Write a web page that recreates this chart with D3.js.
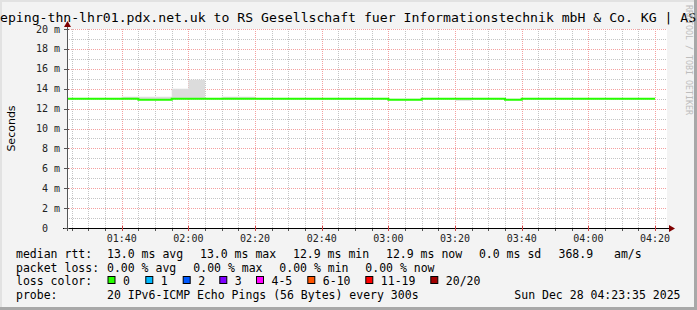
<!DOCTYPE html>
<meta charset="utf-8">
<head>
  <title>SmokePing</title>
  <style>
    body { margin: 0; background: #f3f3f3; }
    text { white-space: pre; }
  </style>
</head>
<script src="https://d3js.org/d3.v7.min.js"></script>
<div id="chart"></div>
<script>

// ---- data ----
var titleText = "eping-thn-lhr01.pdx.net.uk to RS Gesellschaft fuer Informationstechnik mbH & Co. KG | AS";

// 5 minute buckets (start time of each step)
var bucketTimes = ["01:20","01:25","01:30","01:35","01:40","01:45","01:50","01:55",
                   "02:00","02:05","02:10","02:15","02:20","02:25","02:30","02:35",
                   "02:40","02:45","02:50","02:55","03:00","03:05","03:10","03:15",
                   "03:20","03:25","03:30","03:35","03:40","03:45","03:50","03:55",
                   "04:00","04:05","04:10","04:15"];
var lastEnd = "04:20";

// median rtt in ms
var medianMs = [13.0,13.0,13.0,13.0,13.0,12.9,12.9,13.0,
                13.0,13.0,13.0,13.0,13.0,13.0,13.0,13.0,
                13.0,13.0,13.0,13.0,12.9,12.9,13.0,13.0,
                13.0,13.0,13.0,12.9,13.0,13.0,13.0,13.0,
                13.0,13.0,13.0,13.0];
// smoke (spread of the 20 pings) in ms
var smokeMaxMs = [13.05,13.05,13.05,13.05,13.2,13.2,13.2,14.0,
                  14.9,13.05,13.2,13.2,13.05,13.05,13.05,13.05,
                  13.05,13.05,13.05,13.05,13.0,13.0,13.05,13.05,
                  13.05,13.05,13.05,13.0,13.05,13.05,13.05,13.05,
                  13.05,13.05,13.05,13.05];
var smokeMinMs = [12.95,12.95,12.95,12.95,12.95,12.85,12.85,12.95,
                  12.95,12.95,12.95,12.95,12.95,12.95,12.95,12.95,
                  12.95,12.95,12.95,12.95,12.85,12.85,12.95,12.95,
                  12.8,12.95,12.95,12.85,12.95,12.95,12.95,12.95,
                  12.95,12.95,12.95,12.95];
// packet loss per bucket (all zero)
var lossCount = [0,0,0,0,0,0,0,0,0,0,0,0,0,0,0,0,0,0,
                 0,0,0,0,0,0,0,0,0,0,0,0,0,0,0,0,0,0];

var yTicks = [0,2,4,6,8,10,12,14,16,18,20];
var yTickLabels = ["0  ","2 m","4 m","6 m","8 m","10 m","12 m","14 m","16 m","18 m","20 m"];
var xTickLabels = ["01:40","02:00","02:20","02:40","03:00","03:20","03:40","04:00","04:20"];

var lossLabels = ["0","1","2","3","4-5","6-10","11-19","20/20"];
var lossColors = ["#26ff00","#00b8ff","#0059ff","#7e00ff","#ff00ff","#ff5500","#ff0000","#a10000"];

var rttStats = ["13.0 ms avg","13.0 ms max","12.9 ms min","12.9 ms now"," 0.0 ms sd","368.9","am/s"];
var lossStats = ["0.00 % avg","0.00 % max","0.00 % min","0.00 % now"];
var probeText = "20 IPv6-ICMP Echo Pings (56 Bytes) every 300s";
var dateText = "Sun Dec 28 04:23:35 2025";

// ---- layout ----
var width = 697, height = 310;
var plot = {left: 67, right: 667, top: 29, bottom: 228};

function t(s) {
  var p = s.split(":");
  return new Date(Date.UTC(2025, 11, 28, +p[0], +p[1], p[2] ? +p[2] : 0));
}

var svg = d3.select("#chart").append("svg")
    .attr("width", width)
    .attr("height", height)
    .style("display", "block");

// background + 3d border
svg.append("rect").attr("width", width).attr("height", height).attr("fill", "#f3f3f3");
svg.append("rect").attr("x", 0).attr("y", 0).attr("width", width).attr("height", 2).attr("fill", "#e2e2e2");
svg.append("rect").attr("x", 0).attr("y", 0).attr("width", 2).attr("height", height).attr("fill", "#e2e2e2");
svg.append("rect").attr("x", width - 3).attr("y", 0).attr("width", 3).attr("height", height).attr("fill", "#a8a8a8");
svg.append("rect").attr("x", 0).attr("y", height - 3).attr("width", width).attr("height", 3).attr("fill", "#a8a8a8");

var x = d3.scaleUtc()
    .domain([t("01:23:35"), t("04:23:35")])
    .range([plot.left, plot.right]);

var y = d3.scaleLinear()
    .domain([0, 20])
    .range([plot.bottom, plot.top]);

// canvas
svg.append("rect")
    .attr("x", plot.left).attr("y", plot.top)
    .attr("width", plot.right - plot.left).attr("height", plot.bottom - plot.top)
    .attr("fill", "#fff");

var grid = svg.append("g").attr("shape-rendering", "crispEdges");

// minor grid
var minorTimes = d3.utcMinute.every(5).range(x.domain()[0], x.domain()[1]);
grid.selectAll(".vmin").data(minorTimes).enter().append("line")
    .attr("x1", function(d) { return Math.round(x(d)) + 0.5; })
    .attr("x2", function(d) { return Math.round(x(d)) + 0.5; })
    .attr("y1", plot.top).attr("y2", plot.bottom)
    .attr("stroke", "#c4c4c4").attr("stroke-dasharray", "1,1");
grid.selectAll(".hmin").data(d3.range(1, 20, 2)).enter().append("line")
    .attr("x1", plot.left).attr("x2", plot.right)
    .attr("y1", function(d) { return Math.round(y(d)) + 0.5; })
    .attr("y2", function(d) { return Math.round(y(d)) + 0.5; })
    .attr("stroke", "#c4c4c4").attr("stroke-dasharray", "1,1");

// major grid
grid.selectAll(".vmaj").data(xTickLabels).enter().append("line")
    .attr("x1", function(d) { return Math.round(x(t(d))) + 0.5; })
    .attr("x2", function(d) { return Math.round(x(t(d))) + 0.5; })
    .attr("y1", plot.top).attr("y2", plot.bottom)
    .attr("stroke", "#f4a0a0").attr("stroke-dasharray", "1,1");
grid.selectAll(".hmaj").data(yTicks.slice(1)).enter().append("line")
    .attr("x1", plot.left).attr("x2", plot.right)
    .attr("y1", function(d) { return Math.round(y(d)) + 0.5; })
    .attr("y2", function(d) { return Math.round(y(d)) + 0.5; })
    .attr("stroke", "#f4a0a0").attr("stroke-dasharray", "1,1");

// step data built from the arrays
var steps = bucketTimes.map(function(b, i) {
  return {time: t(b), med: medianMs[i], lo: smokeMinMs[i], hi: smokeMaxMs[i], loss: lossCount[i]};
});
var lastStep = steps[steps.length - 1];
steps.push({time: t(lastEnd), med: lastStep.med, lo: lastStep.lo, hi: lastStep.hi, loss: lastStep.loss});

var clip = svg.append("clipPath").attr("id", "plotclip").append("rect")
    .attr("x", plot.left).attr("y", plot.top)
    .attr("width", plot.right - plot.left).attr("height", plot.bottom - plot.top);

var plotG = svg.append("g").attr("clip-path", "url(#plotclip)");

// smoke
var smoke = d3.area()
    .curve(d3.curveStepAfter)
    .x(function(d) { return x(d.time); })
    .y0(function(d) { return y(d.lo); })
    .y1(function(d) { return y(d.hi); });
plotG.append("path")
    .attr("d", smoke(steps))
    .attr("fill", "#dcdcdc");

// median line
var medLine = d3.line()
    .curve(d3.curveStepAfter)
    .x(function(d) { return x(d.time); })
    .y(function(d) { return y(d.med); });
plotG.append("path")
    .attr("d", medLine(steps))
    .attr("fill", "none")
    .attr("stroke", lossColors[0])
    .attr("stroke-width", 2);

// axes
var axisG = svg.append("g").attr("shape-rendering", "crispEdges");
axisG.append("line")
    .attr("x1", plot.left - 4).attr("x2", plot.right + 3)
    .attr("y1", plot.bottom + 0.5).attr("y2", plot.bottom + 0.5)
    .attr("stroke", "#000");
axisG.append("line")
    .attr("x1", plot.left + 0.5).attr("x2", plot.left + 0.5)
    .attr("y1", plot.bottom + 3).attr("y2", plot.top - 4)
    .attr("stroke", "#555");
// tick marks
axisG.selectAll(".xt").data(minorTimes).enter().append("line")
    .attr("x1", function(d) { return Math.round(x(d)) + 0.5; })
    .attr("x2", function(d) { return Math.round(x(d)) + 0.5; })
    .attr("y1", plot.bottom + 1).attr("y2", plot.bottom + 3)
    .attr("stroke", "#555");
axisG.selectAll(".xT").data(xTickLabels).enter().append("line")
    .attr("x1", function(d) { return Math.round(x(t(d))) + 0.5; })
    .attr("x2", function(d) { return Math.round(x(t(d))) + 0.5; })
    .attr("y1", plot.bottom - 2).attr("y2", plot.bottom + 3)
    .attr("stroke", "#c44");
axisG.selectAll(".yT").data(yTicks).enter().append("line")
    .attr("x1", plot.left - 3).attr("x2", plot.left + 2)
    .attr("y1", function(d) { return Math.round(y(d)) + 0.5; })
    .attr("y2", function(d) { return Math.round(y(d)) + 0.5; })
    .attr("stroke", "#555");

// arrows
svg.append("path")
    .attr("d", "M" + (plot.right + 2) + "," + (plot.bottom - 3) + " L" + (plot.right + 8) + "," + (plot.bottom + 0.5) +
               " L" + (plot.right + 2) + "," + (plot.bottom + 4) + "Z")
    .attr("fill", "#7f0000");
svg.append("path")
    .attr("d", "M" + (plot.left - 3) + "," + (plot.top - 2) + " L" + (plot.left + 0.5) + "," + (plot.top - 8) +
               " L" + (plot.left + 4) + "," + (plot.top - 2) + "Z")
    .attr("fill", "#7f0000");

var mono = "'DejaVu Sans Mono', monospace";

// y labels
svg.selectAll(".ylab").data(yTicks).enter().append("text")
    .attr("x", 60)
    .attr("y", function(d) { return y(d) + 3.5; })
    .attr("text-anchor", "end")
    .style("font-family", mono).style("font-size", "10px").attr("fill", "#222")
    .text(function(d, i) { return yTickLabels[i]; });

// x labels
svg.selectAll(".xlab").data(xTickLabels).enter().append("text")
    .attr("x", function(d) { return x(t(d)); })
    .attr("y", 241.5)
    .attr("text-anchor", "middle")
    .style("font-family", mono).style("font-size", "10px").attr("fill", "#222")
    .text(function(d) { return d; });

// title
svg.append("text")
    .attr("x", 0).attr("y", 22)
    .style("font-family", mono).style("font-size", "13.15px").attr("fill", "#000")
    .text(titleText);

// y axis title
svg.append("text")
    .attr("transform", "translate(15," + ((plot.top + plot.bottom) / 2) + ") rotate(-90)")
    .attr("text-anchor", "middle")
    .style("font-family", "'DejaVu Sans', sans-serif").style("font-size", "11px").attr("fill", "#000")
    .text("Seconds");

// watermark
svg.append("text")
    .attr("transform", "translate(686,5) rotate(90)")
    .style("font-family", mono).style("font-size", "8.3px").attr("fill", "#bdbdbd")
    .text("RRDTOOL / TOBI OETIKER");

// legend
var legFont = "11.5px";
function legText(xp, yp, s) {
  svg.append("text").attr("x", xp).attr("y", yp)
    .style("font-family", mono).style("font-size", legFont).attr("fill", "#000")
    .text(s);
}
var rowY = [258, 271.5, 285, 299];
var rttX = [107, 200, 293, 386, 472, 558.5, 614];
var lossX = [107, 193.3, 279.3, 365.3];
var swatchX = [107.5, 145.3, 182.7, 219.3, 256, 307.3, 365.3, 430.3];

legText(16, rowY[0], "median rtt:");
rttStats.forEach(function(s, i) { legText(rttX[i], rowY[0], s); });
legText(16, rowY[1], "packet loss:");
lossStats.forEach(function(s, i) { legText(lossX[i], rowY[1], s); });
legText(16, rowY[2], "loss color:");
lossLabels.forEach(function(s, i) {
  svg.append("rect")
      .attr("x", swatchX[i] + 0.5).attr("y", 276.5)
      .attr("width", 7).attr("height", 7)
      .attr("fill", lossColors[i]).attr("stroke", "#000").attr("stroke-width", 1);
  legText(swatchX[i] + 15.5, rowY[2], s);
});
legText(16, rowY[3], "probe:");
legText(107, rowY[3], probeText);
svg.append("text").attr("x", 680.5).attr("y", rowY[3])
    .attr("text-anchor", "end")
    .style("font-family", mono).style("font-size", legFont).attr("fill", "#000")
    .text(dateText);

</script>
